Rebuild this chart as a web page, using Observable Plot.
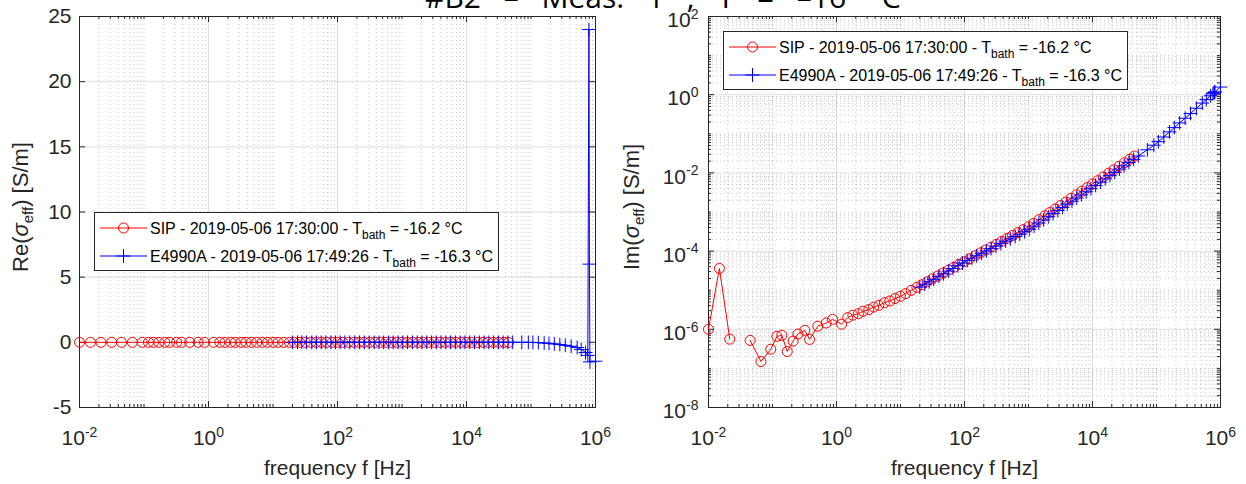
<!DOCTYPE html>
<html>
<head>
<meta charset="utf-8">
<script src="https://cdn.jsdelivr.net/npm/d3@7"></script>
<script src="https://cdn.jsdelivr.net/npm/@observablehq/plot@0.6"></script>
<style>
html, body { margin: 0; padding: 0; background: #fff; }
#wrap { position: relative; width: 1246px; height: 484px; overflow: hidden; background: #fff; font-family: "Liberation Sans", Arial, sans-serif; }
.panel { position: absolute; top: 0; }
#title { position: absolute; top: -18px; left: 425px; white-space: nowrap; word-spacing: 15px;
  font-family: "Open Sans", "Noto Sans", sans-serif; font-size: 30px; line-height: 30px; color: #000; }
</style>
</head>
<body>
<div id="wrap">
  <div id="left" class="panel" style="left:0px"></div>
  <div id="right" class="panel" style="left:620px"></div>
  <div id="title">#B2 – Meas. 1 ; T = –16 °C</div>
</div>
<script>
// ---------------- data ----------------
const sipFreq = [0.01, 0.0148, 0.0215, 0.0316, 0.0447, 0.066, 0.094, 0.117, 0.14, 0.17,
  0.21, 0.25, 0.32, 0.38, 0.51, 0.69, 0.87, 1.2, 1.5, 1.8,
  2.2, 2.6, 3.2, 3.8, 4.6, 5.6, 6.8, 8.2, 10, 12,
  14.7, 18, 21.5, 26, 31.6, 38.3, 46.4, 56.2, 68.1, 82.5,
  100, 120, 147, 180, 215, 260, 316, 383, 464, 562,
  681, 825, 1000, 1200, 1470, 1800, 2150, 2600, 3160, 3830,
  4640, 5620, 6810, 8250, 10000, 12000, 14700, 18000, 21500, 26000,
  31600, 38300, 45000];
const sipRe = [0, 0, 0, 0, 0, 0, 0, 0, 0, 0,
  0, 0, 0, 0, 0, 0, 0, 0, 0, 0,
  0, 0, 0, 0, 0, 0, 0, 0, 0, 0,
  0, 0, 0, 0, 0, 0, 0, 0, 0, 0,
  0, 0, 0, 0, 0, 0, 0, 0, 0, 0,
  0, 0, 0, 0, 0, 0, 0, 0, 0, 0,
  0, 0, 0, 0, 0, 0, 0, 0, 0, 0,
  0, 0, 0];
const sipIm = [1.0e-6, 3.6e-5, 5.6e-7, null, 5.2e-7, 1.5e-7, 3.1e-7, 6.6e-7, 7.0e-7, 2.7e-7,
  5.0e-7, 7.6e-7, 9.4e-7, 5.5e-7, 1.2e-6, 1.45e-6, 1.8e-6, 1.35e-6, 2.0e-6, 2.3e-6,
  2.5e-6, 2.9e-6, 3.2e-6, 3.7e-6, 4.1e-6, 4.8e-6, 5.3e-6, 6.1e-6, 7.0e-6, 8.2e-6,
  9.9e-6, 1.18e-5, 1.38e-5, 1.64e-5, 1.95e-5, 2.31e-5, 2.74e-5, 3.26e-5, 3.86e-5, 4.58e-5,
  5.4e-5, 6.35e-5, 7.6e-5, 9.1e-5, 1.07e-4, 1.26e-4, 1.5e-4, 1.78e-4, 2.12e-4, 2.51e-4,
  2.98e-4, 3.53e-4, 4.2e-4, 5.1e-4, 6.4e-4, 8.0e-4, 9.7e-4, 1.19e-3, 1.47e-3, 1.81e-3,
  2.24e-3, 2.76e-3, 3.4e-3, 4.2e-3, 5.2e-3, 6.3e-3, 7.9e-3, 9.9e-3, 1.2e-2, 1.47e-2,
  1.82e-2, 2.25e-2, 2.7e-2];

const e4990Freq = [20, 24, 28, 33, 40, 47, 56, 66, 79, 93,
  110, 130, 155, 185, 220, 260, 310, 370, 440, 520, 620, 730, 870,
  1030, 1220, 1450, 1720, 2040, 2420, 2870, 3400, 4030, 4780, 5670, 6720, 7970, 9450,
  11200, 13300, 15800, 18700, 22200, 26300, 31200, 37000, 43900, 52000,
  72000, 91000, 107000, 130000, 160000, 190000, 230000, 280000, 340000, 420000,
  520000, 600000, 700000, 760000, 790000, 805000, 820000, 1000000];
const e4990Re = [0, 0, 0, 0, 0, 0, 0, 0, 0, 0,
  0, 0, 0, 0, 0, 0, 0, 0, 0, 0, 0, 0, 0,
  0, 0, 0, 0, 0, 0, 0, 0, 0, 0, 0, 0, 0, 0,
  0, 0, 0, 0, 0, 0, 0, 0, 0, 0,
  0, 0, -0.01, -0.02, -0.05, -0.08, -0.12, -0.17, -0.23, -0.3,
  -0.4, -0.55, -0.78, -1.0, 24, 6, -1.5, -1.45];
const e4990Im = [1.2e-5, 1.42e-5, 1.64e-5, 1.9e-5, 2.27e-5, 2.63e-5, 3.09e-5, 3.6e-5, 4.25e-5, 4.93e-5,
  5.73e-5, 6.57e-5, 7.6e-5, 8.8e-5, 1.01e-4, 1.16e-4, 1.34e-4, 1.55e-4, 1.79e-4, 2.05e-4, 2.36e-4, 2.7e-4, 3.12e-4,
  3.61e-4, 4.34e-4, 5.23e-4, 6.29e-4, 7.56e-4, 9.1e-4, 1.09e-3, 1.31e-3, 1.58e-3, 1.89e-3, 2.28e-3, 2.74e-3, 3.29e-3, 3.95e-3,
  4.78e-3, 5.8e-3, 7.04e-3, 8.5e-3, 1.03e-2, 1.25e-2, 1.52e-2, 1.84e-2, 2.23e-2, 2.7e-2,
  3.9e-2, 5.1e-2, 6.3e-2, 8.3e-2, 0.112, 0.144, 0.19, 0.25, 0.33, 0.45,
  0.61, 0.75, 0.94, 1.06, 1.12, 1.15, 1.18, 1.57];

const xTickValues = [1e-2, 1e0, 1e2, 1e4, 1e6];
const reTickValues = [-5, 0, 5, 10, 15, 20, 25];
const imTickValues = [1e-8, 1e-6, 1e-4, 1e-2, 1e0, 1e2];
const xLabel = "frequency f [Hz]";
const legendNames = ["SIP", "E4990A"];
const legendTimes = ["2019-05-06 17:30:00", "2019-05-06 17:49:26"];
const legendTemps = ["-16.2", "-16.3"];

// ---------------- styling ----------------
const RED = "#ff0000", BLUE = "#0000ff", FRAME = "#262626";
const FONT = "'Liberation Sans', Arial, Helvetica, sans-serif";
const H = 484, MT = 16, MB = 77, PH = H - MT - MB;

const sip = sipFreq.map((f, i) => ({f, re: sipRe[i], im: sipIm[i]}));
const e49 = e4990Freq.map((f, i) => ({f, re: e4990Re[i], im: e4990Im[i]}));

function logMinor(lo, hi, major) {
  const out = [];
  for (let n = lo; n < hi; n++) for (let k = 1; k <= 9; k++) {
    const v = k * Math.pow(10, n);
    if (!major.some(m => Math.abs(m / v - 1) < 1e-9)) out.push(v);
  }
  return out;
}
const xMinor = logMinor(-2, 6, xTickValues);
const imMinor = logMinor(-8, 2, imTickValues);
const expFmt = d => "10^" + Math.round(Math.log10(d));

function xTicks(values, len) {
  return [
    Plot.ruleX(values, {x: d => d, insetTop: PH - len, stroke: FRAME}),
    Plot.ruleX(values, {x: d => d, insetBottom: PH - len, stroke: FRAME})
  ];
}
function yTicks(values, len, PW) {
  return [
    Plot.ruleY(values, {y: d => d, insetRight: PW - len, stroke: FRAME}),
    Plot.ruleY(values, {y: d => d, insetLeft: PW - len, stroke: FRAME})
  ];
}
function seriesMarks(key) {
  return [
    Plot.line(sip, {x: "f", y: key, stroke: RED, strokeWidth: 1}),
    Plot.dot(sip, {x: "f", y: key, r: 5, stroke: RED, fill: "none", strokeWidth: 1}),
    Plot.line(e49, {x: "f", y: key, stroke: BLUE, strokeWidth: 1}),
    Plot.dot(e49, {x: "f", y: key, symbol: "plus", r: 4.5, stroke: BLUE, strokeWidth: 1})
  ];
}
const MINOR = {stroke: FRAME, strokeOpacity: 0.25, strokeDasharray: "1,3"};
const MAJOR = {stroke: FRAME, strokeOpacity: 0.15};

// ---------------- left panel ----------------
const PWL = 620 - 79 - 25;
const leftPlot = Plot.plot({
  width: 620, height: H, marginLeft: 79, marginRight: 25, marginTop: MT, marginBottom: MB,
  style: {fontFamily: FONT, fontSize: "21px", color: FRAME, background: "transparent", overflow: "visible"},
  x: {type: "log", domain: [1e-2, 1e6], axis: null},
  y: {type: "linear", domain: [-5, 25], axis: null},
  marks: [
    Plot.ruleX(xMinor, {x: d => d, ...MINOR}),
    Plot.ruleX(xTickValues, {x: d => d, ...MAJOR}),
    Plot.ruleY(reTickValues, {y: d => d, ...MAJOR}),
    ...xTicks(xTickValues, 6), ...xTicks(xMinor, 3),
    ...yTicks(reTickValues, 6, PWL),
    Plot.frame({stroke: FRAME}),
    Plot.axisX(xTickValues, {anchor: "bottom", tickSize: 0, tickPadding: 23, tickFormat: expFmt,
      label: xLabel, labelAnchor: "center", labelArrow: "none", labelOffset: 67, fontSize: 21}),
    Plot.axisY(reTickValues, {anchor: "left", tickSize: 0, tickPadding: 8, tickFormat: d => String(d), label: null, fontSize: 21}),
    ...seriesMarks("re")
  ]
});

// ---------------- right panel ----------------
const PWR = 626 - 88 - 26;
const rightPlot = Plot.plot({
  width: 626, height: H, marginLeft: 88, marginRight: 26, marginTop: MT, marginBottom: MB,
  style: {fontFamily: FONT, fontSize: "21px", color: FRAME, background: "transparent", overflow: "visible"},
  x: {type: "log", domain: [1e-2, 1e6], axis: null},
  y: {type: "log", domain: [1e-8, 1e2], axis: null},
  marks: [
    Plot.ruleX(xMinor, {x: d => d, ...MINOR}),
    Plot.ruleY(imMinor, {y: d => d, ...MINOR}),
    Plot.ruleX(xTickValues, {x: d => d, ...MAJOR}),
    Plot.ruleY(imTickValues, {y: d => d, ...MAJOR}),
    ...xTicks(xTickValues, 6), ...xTicks(xMinor, 3),
    ...yTicks(imTickValues, 6, PWR), ...yTicks(imMinor, 3, PWR),
    Plot.frame({stroke: FRAME}),
    Plot.axisX(xTickValues, {anchor: "bottom", tickSize: 0, tickPadding: 23, tickFormat: expFmt,
      label: xLabel, labelAnchor: "center", labelArrow: "none", labelOffset: 67, fontSize: 21}),
    Plot.axisY(imTickValues, {anchor: "left", tickSize: 0, tickPadding: 10, dy: 4, tickFormat: expFmt, label: null, fontSize: 21}),
    ...seriesMarks("im")
  ]
});

document.getElementById("left").appendChild(leftPlot);
document.getElementById("right").appendChild(rightPlot);

// superscript exponents in tick labels
const SVGNS = "http://www.w3.org/2000/svg";
function superscriptTicks(svg) {
  svg.querySelectorAll("text").forEach(t => {
    const m = /^10\^(-?\d+)$/.exec(t.textContent);
    if (!m) return;
    t.textContent = "10";
    const ts = document.createElementNS(SVGNS, "tspan");
    ts.setAttribute("dy", "-0.6em");
    ts.setAttribute("font-size", "14px");
    ts.textContent = m[1];
    t.appendChild(ts);
  });
}
superscriptTicks(leftPlot);
superscriptTicks(rightPlot);

// y labels with sigma and subscript
function yLabel(svg, x, y, prefix) {
  const t = d3.select(svg).append("text")
    .attr("transform", `translate(${x},${y}) rotate(-90)`)
    .attr("text-anchor", "middle").attr("font-size", 22).attr("fill", FRAME)
    .attr("font-family", FONT);
  t.append("tspan").text(prefix + "(");
  t.append("tspan").attr("font-style", "italic").text("σ");
  t.append("tspan").attr("font-size", 15).attr("dy", 5).text("eff");
  t.append("tspan").attr("dy", -5).text(") [S/m]");
}
yLabel(leftPlot, 28, 207, "Re");
yLabel(rightPlot, 19, 207, "Im");

// legends
function legend(left, top) {
  const W = 405, LH = 59;
  const svg = d3.select("#wrap").append("svg")
    .attr("width", W).attr("height", LH)
    .style("position", "absolute").style("left", left + "px").style("top", top + "px");
  svg.append("rect").attr("x", 0.5).attr("y", 0.5).attr("width", W - 1).attr("height", LH - 1)
    .attr("fill", "#fff").attr("stroke", FRAME);
  const rows = [16, 44];
  const colors = [RED, BLUE];
  rows.forEach((ry, i) => {
    svg.append("line").attr("x1", 6).attr("x2", 53).attr("y1", ry).attr("y2", ry)
      .attr("stroke", colors[i]).attr("stroke-width", 1);
    if (i === 0) {
      svg.append("circle").attr("cx", 29.5).attr("cy", ry).attr("r", 5)
        .attr("fill", "none").attr("stroke", RED);
    } else {
      svg.append("path").attr("d", `M${29.5 - 7},${ry}H${29.5 + 7}M29.5,${ry - 7}V${ry + 7}`)
        .attr("stroke", BLUE).attr("fill", "none");
    }
    const t = svg.append("text").attr("x", 56).attr("y", ry + 5.5)
      .attr("font-family", FONT).attr("font-size", 16).attr("fill", "#000");
    t.append("tspan").text(`${legendNames[i]} - ${legendTimes[i]} - T`);
    t.append("tspan").attr("font-size", 12).attr("dy", 5).text("bath");
    t.append("tspan").attr("dy", -5).text(` = ${legendTemps[i]} °C`);
  });
}
legend(94, 212);
legend(723, 31);
</script>
</body>
</html>
